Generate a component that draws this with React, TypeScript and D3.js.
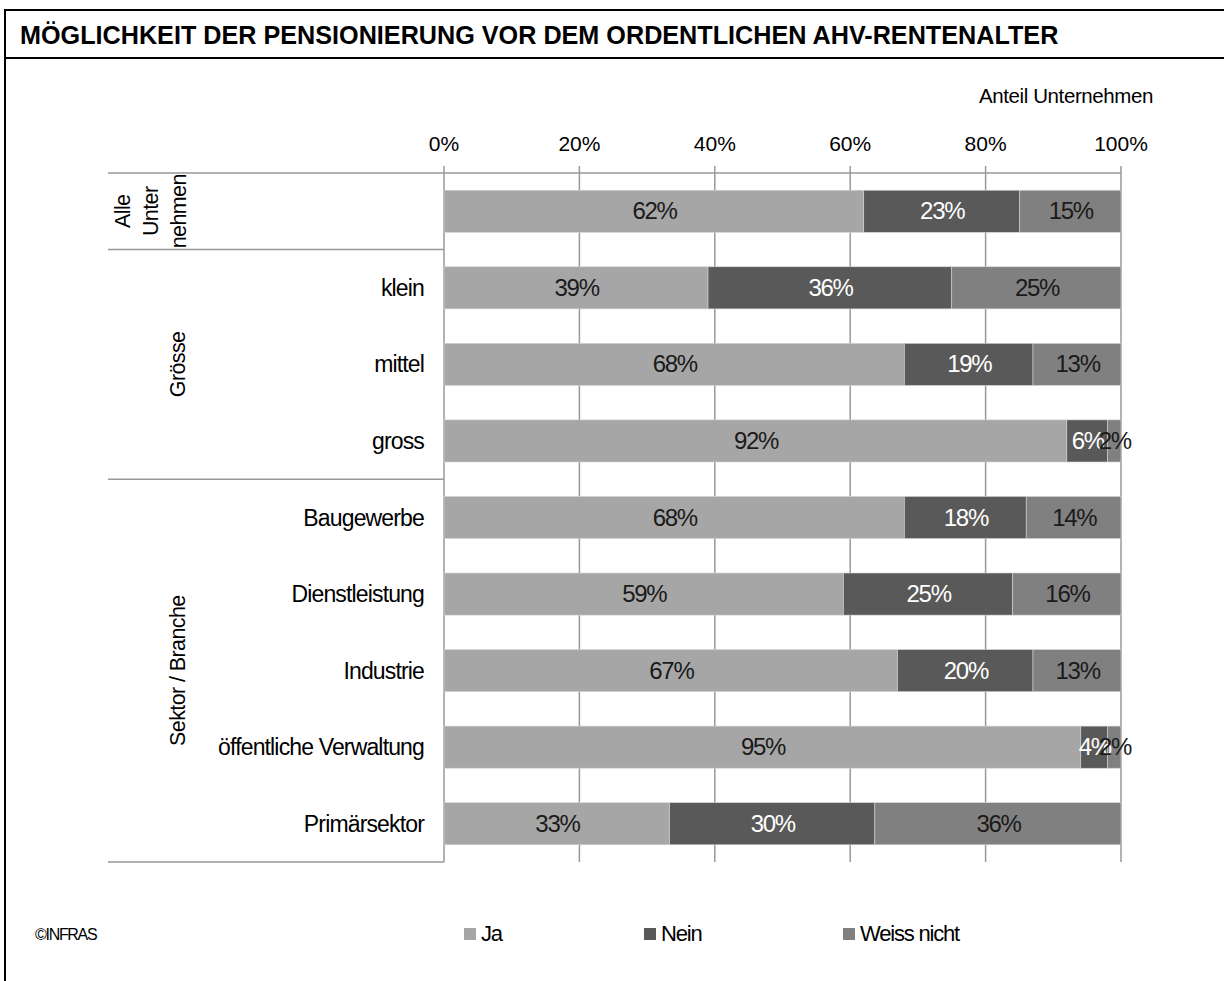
import React from 'react'
import * as d3 from 'd3'

const categories = [
  'Alle Unternehmen',
  'klein',
  'mittel',
  'gross',
  'Baugewerbe',
  'Dienstleistung',
  'Industrie',
  'öffentliche Verwaltung',
  'Primärsektor'
]
const ja = [62, 39, 68, 92, 68, 59, 67, 95, 33]
const nein = [23, 36, 19, 6, 18, 25, 20, 4, 30]
const weissNicht = [15, 25, 13, 2, 14, 16, 13, 2, 36]
const seriesNames = ['Ja', 'Nein', 'Weiss nicht']
const seriesColors = ['#a6a6a6', '#595959', '#808080']
const labelColors = ['#1a1a1a', '#ffffff', '#1a1a1a']
const ticks = [0, 0.2, 0.4, 0.6, 0.8, 1]
const groups = [
  { name: ['Alle', 'Unter', 'nehmen'], from: 0, to: 0 },
  { name: ['Grösse'], from: 1, to: 3 },
  { name: ['Sektor / Branche'], from: 4, to: 8 }
]

const FONT = '"Liberation Sans", Arial, sans-serif'

const App: React.FC = () => {
  const width = 1224
  const height = 981

  const x = d3.scaleLinear().domain([0, 1]).range([444, 1121])
  const y = d3
    .scaleBand<string>()
    .domain(categories)
    .range([173, 862])
    .paddingInner(0.45)
    .paddingOuter(0.225)
  const step = y.step()
  const rowTop = (i: number) => y(categories[i])! - (step * 0.45) / 2
  const rowBottom = (i: number) => rowTop(i) + step

  const rows = categories.map((c, i) => ({ cat: c, Ja: ja[i], Nein: nein[i], 'Weiss nicht': weissNicht[i] }))
  const stack = d3.stack<any>().keys(seriesNames).offset(d3.stackOffsetExpand)
  const stacked = stack(rows)

  const separators = [rowBottom(0), rowBottom(3), rowBottom(8)]

  return (
    <div style={{ position: 'absolute', left: 0, top: 0 }}>
      <svg width={width} height={height} style={{ display: 'block', fontFamily: FONT }}>
        <rect x={0} y={0} width={width} height={height} fill="#fff" />
        {/* frame */}
        <rect x={5} y={10} width={width + 20} height={height + 20} fill="none" stroke="#000" strokeWidth={2} />
        <line x1={5} x2={width} y1={58} y2={58} stroke="#000" strokeWidth={2} />
        <text x={20} y={44} fontSize={25.2} fontWeight="bold" fill="#000">
          MÖGLICHKEIT DER PENSIONIERUNG VOR DEM ORDENTLICHEN AHV-RENTENALTER
        </text>

        <text x={1153} y={103} fontSize={20.5} textAnchor="end" fill="#000" letterSpacing={-0.4}>
          Anteil Unternehmen
        </text>

        {/* gridlines and top axis */}
        {ticks.map(t => (
          <g key={t}>
            <line x1={x(t)} x2={x(t)} y1={166} y2={rowBottom(8)} stroke="#999" strokeWidth={1.5} />
            <text x={x(t)} y={151} fontSize={21} textAnchor="middle" fill="#000">
              {d3.format('.0%')(t)}
            </text>
          </g>
        ))}
        <line x1={108} x2={x(1)} y1={173} y2={173} stroke="#999" strokeWidth={1.5} />
        {separators.map((s, i) => (
          <line key={i} x1={108} x2={x(0)} y1={s} y2={s} stroke="#999" strokeWidth={1.5} />
        ))}

        {/* bars */}
        {stacked.map((layer, si) => (
          <g key={layer.key}>
            {layer.map((d, i) => {
              const x0 = x(d[0])
              const x1 = x(d[1])
              return (
                <rect
                  key={i}
                  x={x0}
                  y={y(categories[i])}
                  width={x1 - x0}
                  height={y.bandwidth()}
                  fill={seriesColors[si]}
                  stroke="#d4d4d4"
                  strokeWidth={0.6}
                />
              )
            })}
          </g>
        ))}
        {/* value labels */}
        {stacked.map((layer, si) => (
          <g key={layer.key + '-lbl'}>
            {layer.map((d, i) => {
              const value = [ja, nein, weissNicht][si][i]
              return (
                <text
                  key={i}
                  x={(x(d[0]) + x(d[1])) / 2 + 0.6}
                  y={y(categories[i])! + y.bandwidth() / 2 + 8}
                  fontSize={24}
                  letterSpacing={-1.3}
                  textAnchor="middle"
                  fill={labelColors[si]}
                >
                  {value}%
                </text>
              )
            })}
          </g>
        ))}

        {/* category labels */}
        {categories.map((c, i) =>
          i === 0 ? null : (
            <text
              key={c}
              x={424}
              y={y(c)! + y.bandwidth() / 2 + 8}
              fontSize={23}
              letterSpacing={-0.85}
              textAnchor="end"
              fill="#000"
            >
              {c}
            </text>
          )
        )}

        {/* group labels */}
        {groups.map((g, gi) => {
          const cy = (rowTop(g.from) + rowBottom(g.to)) / 2
          const cx0 = gi === 0 ? 122 : 177
          return g.name.map((ln, li) => (
            <text
              key={gi + '-' + li}
              transform={`translate(${cx0 + li * 28 + 7.5},${cy}) rotate(-90)`}
              fontSize={21.5}
              letterSpacing={-0.6}
              textAnchor="middle"
              fill="#000"
            >
              {ln}
            </text>
          ))
        })}

        {/* source */}
        <text x={35} y={940} fontSize={16} fill="#000" letterSpacing={-1.3}>
          ©INFRAS
        </text>

        {/* legend */}
        {seriesNames.map((s, i) => {
          const lx = [464, 644, 843][i]
          return (
            <g key={s}>
              <rect x={lx} y={928} width={12} height={12} fill={seriesColors[i]} />
              <text x={lx + 17} y={941} fontSize={22} letterSpacing={-1.2} fill="#000">
                {s}
              </text>
            </g>
          )
        })}
      </svg>
    </div>
  )
}

export default App
